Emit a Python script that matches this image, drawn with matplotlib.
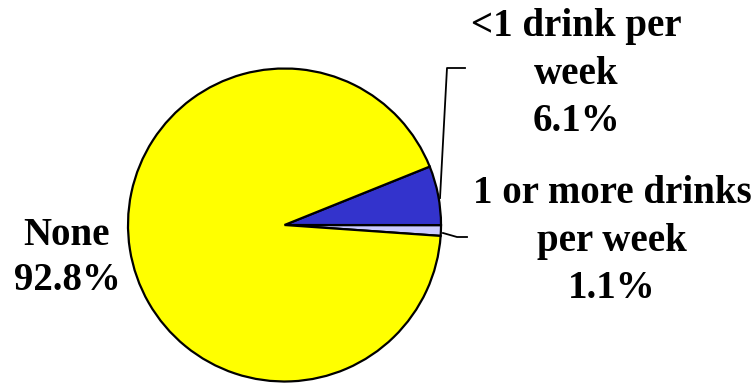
import matplotlib.pyplot as plt

plt.rcParams["font.family"] = ["Liberation Serif", "DejaVu Serif"]

labels = ["1 or more drinks\nper week", "<1 drink per\nweek", "None"]
shares = [1.1, 6.1, 92.8]
colors = ["#ccccff", "#3333cc", "#ffff00"]

W, H = 755, 383
fig = plt.figure(figsize=(W / 100, H / 100), dpi=100)
ax = fig.add_axes([0, 0, 1, 1])

cx, cy, r = 284.5, 383 - 225, 156.5
ax.pie(
    shares,
    colors=colors,
    startangle=-4,
    counterclock=True,
    center=(cx, cy),
    radius=r,
    wedgeprops=dict(edgecolor="black", linewidth=1.6),
    frame=True,
)
ax.set_xlim(0, W)
ax.set_ylim(0, H)
ax.set_aspect("equal")
ax.axis("off")

# leader lines
ax.plot([440, 447, 465], [H - 198, H - 68, H - 68], color="black", lw=1.3)
ax.plot([443, 457, 467], [H - 233, H - 237, H - 237], color="black", lw=1.3)

txt = dict(fontsize=28, fontweight="bold", ha="center", va="center")
ax.text(576, H - 74, f"{labels[1]}\n{shares[1]}%", linespacing=1.38, **txt)
ax.text(612, H - 241, f"{labels[0]}\n{shares[0]}%", linespacing=1.38, **txt)
ax.text(67, H - 258, f"{labels[2]}\n{shares[2]}%", linespacing=1.3, **txt)

fig.savefig("out.png", dpi=100, facecolor="white")
